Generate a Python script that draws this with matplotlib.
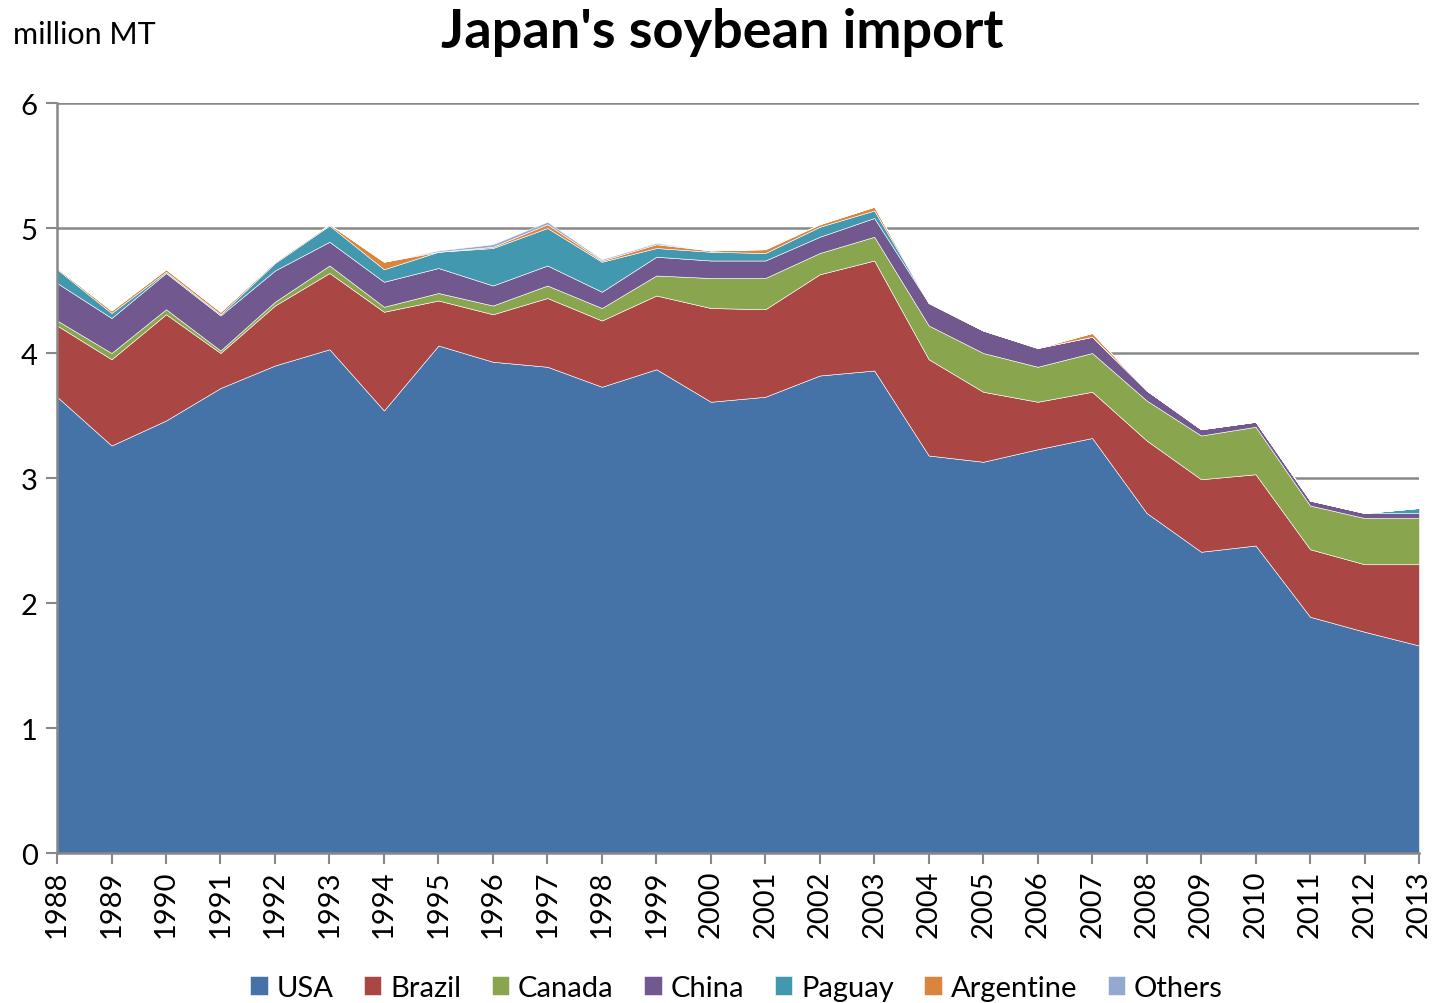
import numpy as np
import matplotlib
matplotlib.use("Agg")
import matplotlib.pyplot as plt

plt.rcParams['font.family'] = ['Lato', 'DejaVu Sans']

years = list(range(1988, 2014))

# million MT
usa = [3.65, 3.26, 3.46, 3.72, 3.90, 4.03, 3.54, 4.06, 3.93, 3.89, 3.73, 3.87, 3.61,
       3.65, 3.82, 3.86, 3.18, 3.13, 3.23, 3.32, 2.72, 2.41, 2.46, 1.89, 1.77, 1.66]
brazil = [0.57, 0.69, 0.85, 0.28, 0.48, 0.61, 0.79, 0.36, 0.38, 0.55, 0.53, 0.59, 0.75,
          0.70, 0.81, 0.88, 0.77, 0.56, 0.38, 0.37, 0.58, 0.58, 0.57, 0.54, 0.54, 0.65]
canada = [0.04, 0.05, 0.04, 0.02, 0.03, 0.06, 0.04, 0.06, 0.07, 0.10, 0.10, 0.16, 0.24,
          0.25, 0.17, 0.19, 0.27, 0.31, 0.28, 0.31, 0.32, 0.35, 0.38, 0.35, 0.37, 0.37]
china = [0.30, 0.28, 0.29, 0.28, 0.25, 0.19, 0.20, 0.20, 0.16, 0.16, 0.13, 0.15, 0.14,
         0.14, 0.13, 0.15, 0.18, 0.18, 0.15, 0.13, 0.08, 0.05, 0.04, 0.04, 0.04, 0.04]
paguay = [0.11, 0.04, 0.01, 0.01, 0.06, 0.13, 0.10, 0.13, 0.30, 0.30, 0.24, 0.07, 0.07,
          0.06, 0.08, 0.06, 0.00, 0.00, 0.00, 0.00, 0.00, 0.00, 0.00, 0.00, 0.00, 0.04]
argentine = [0.01, 0.02, 0.02, 0.02, 0.01, 0.01, 0.06, 0.00, 0.01, 0.03, 0.01, 0.03, 0.01,
             0.03, 0.02, 0.03, 0.00, 0.00, 0.00, 0.03, 0.00, 0.00, 0.00, 0.00, 0.00, 0.00]
others = [0.00, 0.00, 0.00, 0.00, 0.00, 0.00, 0.00, 0.01, 0.02, 0.02, 0.01, 0.01, 0.00,
          0.00, 0.00, 0.00, 0.00, 0.00, 0.00, 0.00, 0.00, 0.00, 0.00, 0.00, 0.00, 0.00]

labels = ["USA", "Brazil", "Canada", "China", "Paguay", "Argentine", "Others"]
colors = ["#4572A7", "#AA4643", "#89A54E", "#71588F", "#4198AF", "#DB843D", "#93A9CF"]

fig = plt.figure(figsize=(14.44, 10.04), dpi=100)
ax = fig.add_axes([0.0395, 0.1494, 0.9432, 0.747])

ax.stackplot(years, usa, brazil, canada, china, paguay, argentine, others,
             labels=labels, colors=colors, edgecolor="white", linewidth=0.4, zorder=2)

ax.set_xlim(1988, 2013)
ax.set_ylim(0, 6)
ax.set_yticks(range(0, 7))
ax.set_xticks(years)
ax.set_xticklabels([str(y) for y in years], rotation=90, fontsize=21)
ax.tick_params(axis="y", labelsize=21, length=8, width=1.5, color="#888888", pad=6)
ax.tick_params(axis="x", length=8, width=1.5, color="#888888", pad=4)
ax.grid(axis="y", color="#888888", linewidth=1.8, zorder=0)
ax.set_axisbelow(True)
for s in ["top", "right"]:
    ax.spines[s].set_visible(False)
for s in ["left", "bottom"]:
    ax.spines[s].set_color("#888888")
    ax.spines[s].set_linewidth(1.8)

fig.text(0.5, 0.968, "Japan's soybean import", ha="center", va="center",
         fontsize=39, fontweight="bold")
fig.text(0.009, 0.965, "million MT", ha="left", va="center", fontsize=22)

fig.legend(loc="lower center", bbox_to_anchor=(0.51, -0.024), ncol=7, fontsize=21,
           frameon=False, handlelength=0.6, handleheight=0.6, handletextpad=0.3,
           columnspacing=1.05)

fig.savefig("out.png", dpi=100)
